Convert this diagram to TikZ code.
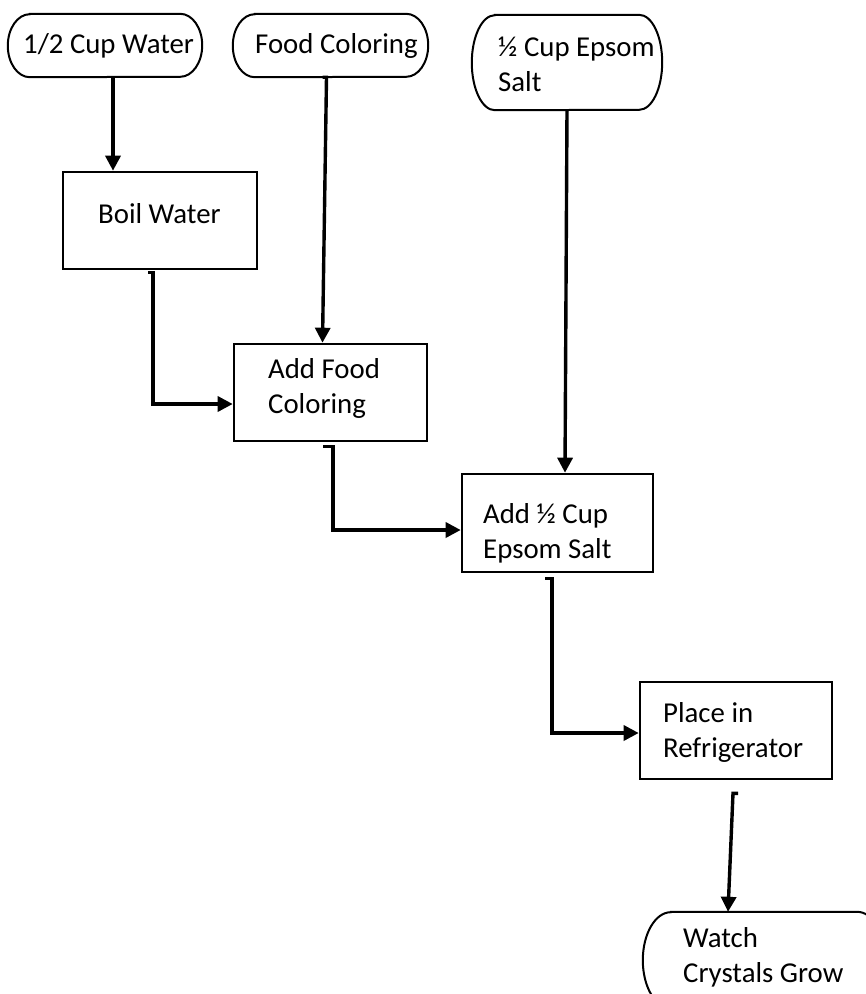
\documentclass[tikz,border=0pt]{standalone}
\usepackage{fontspec}
\setmainfont{Carlito}
\usetikzlibrary{arrows.meta,calc}
\newcommand\TermOutline[3]{%
  \draw[termline] ([xshift=#2pt]#1.north west) -- ([xshift=-#2pt]#1.north east)
    arc[start angle=-90,end angle=90,x radius=#2,y radius=#3]
    -- ([xshift=#2pt]#1.south west)
    arc[start angle=90,end angle=270,x radius=#2,y radius=#3] -- cycle;}
\begin{document}
\begin{tikzpicture}[x=1pt,y=-1pt,
  procbox/.style={draw,line width=2.6pt,inner sep=0pt},
  termnode/.style={inner sep=0pt},
  termline/.style={line width=2pt},
  lbl/.style={inner sep=0pt,anchor=base west,align=left,font=\fontsize{28.8}{35}\selectfont},
  conn/.style={line width=3.4pt,-{Triangle[length=15pt,width=15pt]}}]
\useasboundingbox (0,0) rectangle (866,994);
\fill[white] (0,0) rectangle (866,994);
\clip (0,0) rectangle (866,994);
% shapes
\node[termnode,minimum width=194pt,minimum height=63pt] (t1) at (105,45.5) {};
\node[termnode,minimum width=195pt,minimum height=63pt] (t2) at (330.5,45.5) {};
\node[termnode,minimum width=190pt,minimum height=95pt] (t3) at (567,62.5) {};
\node[procbox,minimum width=194pt,minimum height=97pt] (boil) at (160,220.5) {};
\node[procbox,minimum width=193pt,minimum height=97pt] (addfood) at (330.5,392.5) {};
\node[procbox,minimum width=191pt,minimum height=98pt] (add2) at (557.5,523) {};
\node[procbox,minimum width=192pt,minimum height=97pt] (place) at (736,730.5) {};
\node[termnode,minimum width=242pt,minimum height=96pt] (watch) at (764,960) {};
\TermOutline{t1}{22}{31.5}
\TermOutline{t2}{22}{31.5}
\TermOutline{t3}{23}{47.5}
\TermOutline{watch}{28}{48}
% texts (multi-line nodes: base is on the last line)
\node[lbl] (t1txt) at (23,53) {1/2 Cup Water};
\node[lbl] (t2txt) at (255,53) {Food Coloring};
\node[lbl] (t3txt) at (498,91) {½ Cup Epsom\\Salt};
\node[lbl] (boiltxt) at (98,223) {Boil Water};
\node[lbl] (addfoodtxt) at (268,413) {Add Food\\Coloring};
\node[lbl] (add2txt) at (483,558) {Add ½ Cup\\Epsom Salt};
\node[lbl] (placetxt) at (663,757) {Place in\\Refrigerator};
\node[lbl] (watchtxt) at (683,982) {Watch\\Crystals Grow};
% connectors
\coordinate (c1s) at ($(t1.south)+(8,1)$);
\draw[conn] (c1s) -- (c1s |- boil.north);
\coordinate (c2s) at ($(t2.south)+(-4,0)$);
\draw[conn] ($(c2s)+(-4,0)$) -- (c2s) -- ($(addfood.north)+(-8,0)$);
\coordinate (c3s) at ($(boil.south)+(-7,2)$);
\coordinate (c3e) at ($(addfood.west)+(0,11.5)$);
\draw[conn] ($(c3s)+(-5,0)$) -- (c3s) -- (c3s |- c3e) -- (c3e);
\coordinate (c4s) at ($(addfood.south)+(2.5,4)$);
\coordinate (c4e) at ($(add2.west)+(0,7)$);
\draw[conn] ($(c4s)+(-10,0)$) -- (c4s) -- (c4s |- c4e) -- (c4e);
\draw[conn] (t3.south) -- ($(add2.north)+(7.5,0)$);
\coordinate (c6s) at ($(add2.south)+(-5.5,5)$);
\coordinate (c6e) at ($(place.west)+(0,2.5)$);
\draw[conn] ($(c6s)+(-7,0)$) -- (c6s) -- (c6s |- c6e) -- (c6e);
\coordinate (c7s) at ($(place.south)+(-3,13)$);
\draw[conn] ($(c7s)+(5,0)$) -- (c7s) -- ($(watch.north)+(-36,0)$);
\end{tikzpicture}
\end{document}
